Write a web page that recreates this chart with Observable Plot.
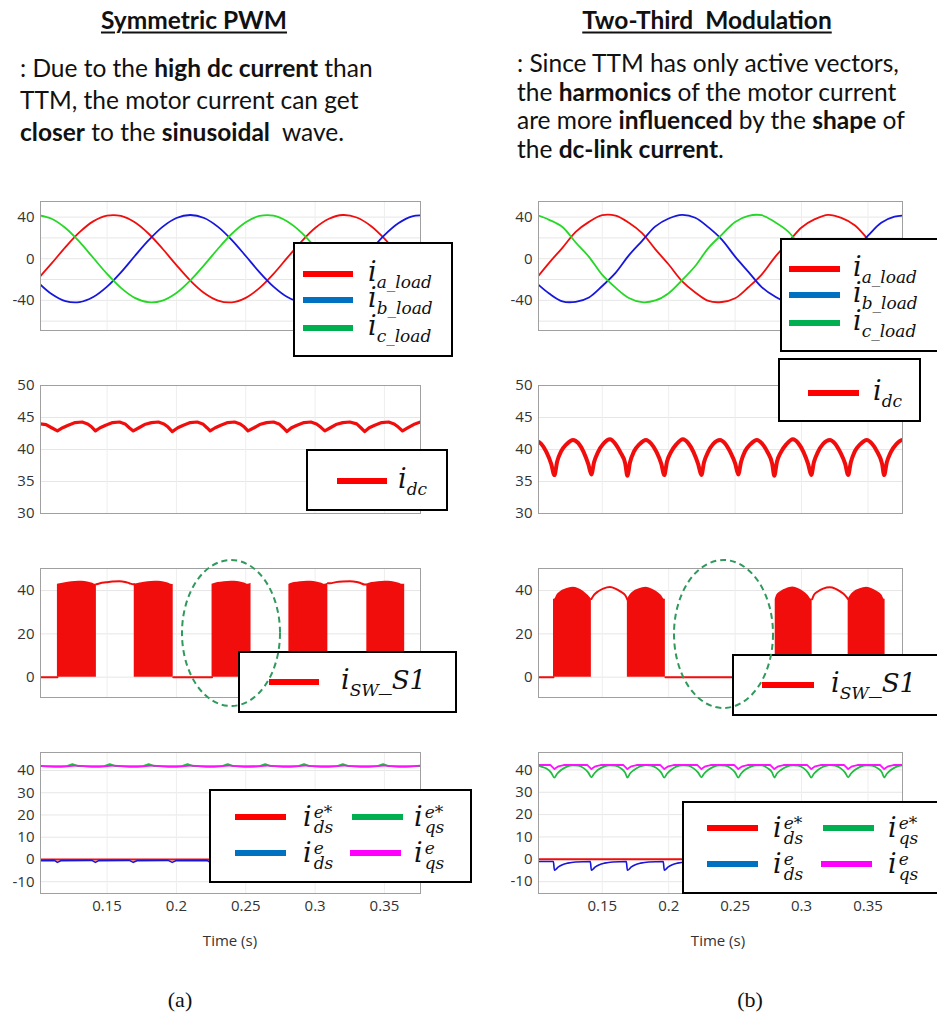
<!DOCTYPE html>
<html><head><meta charset="utf-8">
<script src="https://cdn.jsdelivr.net/npm/d3@7"></script>
<script src="https://cdn.jsdelivr.net/npm/@observablehq/plot@0.6"></script>
<style>
body{margin:0;background:#fff;}
#root{position:relative;width:937px;height:1017px;overflow:hidden;background:#fff;font-family:Lato,"Open Sans",sans-serif;}
.abs{position:absolute;}
.title{position:absolute;font-weight:700;font-size:24.5px;text-decoration:underline;text-decoration-thickness:1.5px;text-underline-offset:3px;transform:translate(-50%,-50%);white-space:nowrap;color:#111;}
.body{position:absolute;font-size:24.5px;color:#111;white-space:nowrap;}
.legend{position:absolute;border:2.5px solid #000;background:#fff;box-sizing:border-box;}
.sw{position:absolute;height:6px;transform:translateY(-50%);}
.lab{position:absolute;font-family:"DejaVu Serif",serif;font-style:italic;transform:translateY(-50%);white-space:nowrap;color:#111;line-height:1;}
.mi{font-size:27px;}
.sb{font-size:17px;vertical-align:-7px;}
.up{font-size:26px;}
.ss{display:inline-block;font-size:17px;line-height:15px;vertical-align:-7px;margin-left:2px;}
.ss span{display:block;}
.tl{position:absolute;font-family:"Open Sans",sans-serif;font-size:15px;color:#333;transform:translate(-50%,-50%);}
.cap{position:absolute;font-family:"Liberation Serif",serif;font-size:22px;color:#111;transform:translate(-50%,-50%);}
</style></head>
<body><div id="root"></div>
<script>
// ---------------- data ----------------
const timeDomain = [0.102, 0.376];
const timeTicks = [0.15, 0.2, 0.25, 0.3, 0.35];
const ticksLoad = [-40, 0, 40];
const gridLoad = [-60, -40, -20, 0, 20, 40];
const ticksDc = [30, 35, 40, 45, 50];
const ticksSw = [0, 20, 40];
const gridSw = [0, 20, 40];
const ticksDq = [-10, 0, 10, 20, 30, 40];

const loadNames = ["a_load", "b_load", "c_load"];
const loadTime = [0.10,0.11,0.12,0.13,0.14,0.15,0.16,0.17,0.18,0.19,0.20,0.21,0.22,0.23,0.24,0.25,0.26,0.27,0.28,0.29,0.30,0.31,0.32,0.33,0.34,0.35,0.36,0.37,0.38];
// Symmetric PWM phase currents (A)
const spwmIa = [-19.6,-4.5,11.2,25.3,35.9,41.4,41.1,35.0,24.0,9.6,-6.1,-21.0,-32.9,-40.2,-41.9,-37.6,-28.0,-14.6,1.0,16.3,29.5,38.4,42.0,39.6,31.7,19.3,4.0,-11.7,-25.9];
const spwmIb = [-22.4,-33.9,-40.7,-41.7,-36.8,-26.8,-13.1,2.6,17.8,30.6,39.1,42.0,39.1,30.6,17.9,2.6,-13.1,-26.8,-36.8,-41.7,-40.7,-33.9,-22.4,-7.7,8.0,22.7,34.1,40.7,41.6];
const spwmIc = [42.0,38.4,29.5,16.4,0.9,-14.6,-28.0,-37.6,-41.8,-40.2,-33.0,-21.0,-6.2,9.6,24.0,35.0,41.1,41.4,35.8,25.4,11.2,-4.5,-19.6,-31.9,-39.7,-42.0,-38.1,-29.0,-15.7];
// Two-third modulation phase currents (A)
const ttmIa = [-19.6,-4.0,10.5,25.8,35.4,41.8,41.4,34.6,24.6,9.0,-5.6,-21.5,-32.4,-40.6,-41.6,-38.0,-27.4,-15.2,1.6,15.8,30.0,38.0,42.2,39.2,32.2,18.8,4.6,-12.2,-25.4];
const ttmIb = [-22.8,-33.4,-41.0,-41.4,-37.2,-26.2,-13.6,3.2,17.2,31.1,38.7,42.2,39.4,30.1,18.4,2.0,-12.6,-27.3,-36.4,-41.9,-40.4,-34.3,-21.9,-8.2,8.5,22.1,34.6,40.4,41.8];
const ttmIc = [42.4,37.4,30.5,15.6,1.8,-15.6,-27.8,-37.8,-41.8,-40.1,-33.1,-20.7,-7.0,10.5,23.2,35.4,41.2,41.8,35.2,26.1,10.4,-3.7,-20.3,-31.0,-40.7,-40.9,-39.2,-28.2,-16.4];

// Symmetric PWM dc-link current [t, A]
const spwmIdc = [[0.102,44.0],[0.106,43.9],[0.110,43.4],[0.1142,42.9],[0.118,43.4],[0.122,43.8],[0.127,44.2],[0.132,44.3],[0.136,44.0],[0.139,43.5],
[0.1416,42.9],[0.145,43.4],[0.149,43.8],[0.154,44.2],[0.159,44.3],[0.163,44.0],[0.166,43.4],[0.1689,42.9],[0.173,43.4],[0.177,43.9],
[0.182,44.2],[0.187,44.3],[0.191,44.0],[0.194,43.5],[0.197,42.8],[0.201,43.4],[0.205,43.8],[0.210,44.2],[0.215,44.3],[0.219,44.0],
[0.222,43.4],[0.2243,42.9],[0.228,43.4],[0.232,43.8],[0.237,44.2],[0.242,44.3],[0.246,44.0],[0.249,43.5],[0.2516,42.9],[0.256,43.4],
[0.260,43.9],[0.265,44.2],[0.270,44.3],[0.274,44.0],[0.277,43.4],[0.2797,42.8],[0.283,43.4],[0.287,43.8],[0.292,44.2],[0.297,44.3],
[0.301,44.0],[0.304,43.5],[0.307,42.9],[0.311,43.4],[0.315,43.9],[0.320,44.2],[0.325,44.3],[0.330,44.0],[0.333,43.4],[0.3358,42.8],
[0.339,43.4],[0.343,43.8],[0.348,44.2],[0.353,44.3],[0.357,44.0],[0.360,43.5],[0.3631,42.9],[0.367,43.4],[0.371,43.9],[0.376,44.3]];

// Two-third modulation: common time base for dc-link current and q-axis reference
const ttmTime = [0.100,0.104,0.108,0.1115,
0.1140,0.1160,0.1190,0.1230,0.1280,0.1320,0.1360,0.1395,
0.1418,0.1438,0.1468,0.1508,0.1558,0.1598,0.1638,0.1673,
0.1689,0.1709,0.1739,0.1779,0.1829,0.1869,0.1909,0.1944,
0.1967,0.1987,0.2017,0.2057,0.2107,0.2147,0.2187,0.2222,
0.2246,0.2266,0.2296,0.2336,0.2386,0.2426,0.2466,0.2501,
0.2524,0.2544,0.2574,0.2614,0.2664,0.2704,0.2744,0.2779,
0.2795,0.2815,0.2845,0.2885,0.2935,0.2975,0.3015,0.3050,
0.3073,0.3093,0.3123,0.3163,0.3213,0.3253,0.3293,0.3328,
0.3351,0.3371,0.3401,0.3441,0.3491,0.3531,0.3571,0.3606,
0.3622,0.3642,0.3672,0.3712,0.3762,0.3800];
const ttmIdc = [41.4,40.9,39.6,37.8,
36.0,38.1,39.7,40.8,41.5,41.0,39.6,37.7,
36.1,38.0,39.6,40.9,41.6,40.9,39.5,37.8,
35.9,38.0,39.7,40.8,41.5,40.9,39.6,37.8,
36.0,38.1,39.6,40.8,41.6,41.0,39.6,37.7,
36.0,38.0,39.6,40.9,41.5,40.9,39.5,37.8,
36.1,38.0,39.7,40.8,41.5,40.9,39.6,37.8,
35.9,38.1,39.6,40.8,41.6,41.0,39.6,37.7,
36.0,38.0,39.6,40.9,41.5,40.9,39.5,37.8,
36.0,38.0,39.7,40.8,41.5,40.9,39.6,37.8,
36.0,38.0,39.6,40.8,41.5,41.2];
const ttmQsRef = [42.0,41.5,40.6,38.8,
36.6,38.3,40.0,41.4,42.1,41.9,40.8,38.8,
36.7,38.3,40.1,41.4,42.1,41.9,40.8,38.7,
36.6,38.4,40.0,41.4,42.2,41.9,40.8,38.8,
36.6,38.3,40.0,41.5,42.1,41.9,40.7,38.8,
36.7,38.3,40.0,41.4,42.1,41.9,40.8,38.8,
36.6,38.3,40.1,41.4,42.1,42.0,40.8,38.8,
36.6,38.4,40.0,41.4,42.1,41.9,40.8,38.7,
36.6,38.3,40.0,41.4,42.2,41.9,40.8,38.8,
36.7,38.3,40.0,41.4,42.1,41.9,40.8,38.8,
36.6,38.3,40.0,41.4,42.1,42.0];

// switch S1 current: PWM-switching intervals and continuously-on intervals [s]
const spwmPwmStart = [0.1142, 0.1696, 0.2257, 0.2811, 0.3373];
const spwmPwmEnd   = [0.1423, 0.1977, 0.2538, 0.3092, 0.3646];
const spwmOnStart  = [0.1423, 0.3092];
const spwmOnEnd    = [0.1696, 0.3373];
const ttmPwmStart  = [0.1133, 0.1689, 0.2802, 0.3351];
const ttmPwmEnd    = [0.1418, 0.1975, 0.3080, 0.3629];
const ttmOnStart   = [0.1418, 0.3080];
const ttmOnEnd     = [0.1689, 0.3351];

// d-q currents [t, A]
const spwmDsRef = [[0.100,0.0],[0.380,0.0]];
const spwmDs = [[0.102,-0.5],[0.112,-0.4],[0.1142,-1.3],[0.117,-0.5],[0.139,-0.4],[0.1416,-1.3],[0.144,-0.5],[0.166,-0.4],[0.1689,-1.3],[0.172,-0.5],
[0.194,-0.4],[0.1970,-1.3],[0.200,-0.5],[0.222,-0.4],[0.2243,-1.3],[0.227,-0.5],[0.249,-0.4],[0.2516,-1.3],[0.254,-0.5],[0.277,-0.4],
[0.2797,-1.3],[0.282,-0.5],[0.305,-0.4],[0.3070,-1.3],[0.310,-0.5],[0.333,-0.4],[0.3358,-1.3],[0.338,-0.5],[0.361,-0.4],[0.3631,-1.3],[0.366,-0.5],[0.376,-0.4]];
const spwmQsRef = [[0.102,42.0],[0.121,42.0],[0.125,42.9],[0.129,42.0],[0.148,42.0],[0.152,42.9],[0.156,42.0],[0.176,42.0],[0.180,42.9],[0.184,42.0],
[0.204,42.0],[0.208,42.9],[0.212,42.0],[0.233,42.0],[0.237,42.9],[0.241,42.0],[0.260,42.0],[0.264,42.9],[0.268,42.0],[0.288,42.0],
[0.292,42.9],[0.296,42.0],[0.316,42.0],[0.320,42.9],[0.324,42.0],[0.345,42.0],[0.349,42.9],[0.353,42.0],[0.376,42.0]];
const spwmQs = [[0.102,42.1],[0.1142,41.6],[0.128,42.2],[0.1416,41.6],[0.155,42.2],[0.1689,41.6],[0.183,42.2],[0.1970,41.6],[0.211,42.2],[0.2243,41.6],
[0.238,42.2],[0.2516,41.6],[0.266,42.2],[0.2797,41.6],[0.293,42.2],[0.3070,41.6],[0.321,42.2],[0.3358,41.6],[0.350,42.2],[0.3631,41.6],[0.376,42.2]];
const ttmDsRef = [[0.100,0.0],[0.380,0.0]];
const ttmDs = [[0.100,-1.0],
[0.1132,-1.0],[0.1140,-4.9],[0.1170,-3.4],[0.1200,-2.4],[0.1240,-1.7],[0.1300,-1.2],
[0.1410,-1.0],[0.1418,-4.9],[0.1448,-3.4],[0.1478,-2.4],[0.1518,-1.7],[0.1578,-1.2],
[0.1681,-1.0],[0.1689,-4.9],[0.1719,-3.4],[0.1749,-2.4],[0.1789,-1.7],[0.1849,-1.2],
[0.1959,-1.0],[0.1967,-4.9],[0.1997,-3.4],[0.2027,-2.4],[0.2067,-1.7],[0.2127,-1.2],
[0.2238,-1.0],[0.2246,-4.9],[0.2276,-3.4],[0.2306,-2.4],[0.2346,-1.7],[0.2406,-1.2],
[0.2516,-1.0],[0.2524,-4.9],[0.2554,-3.4],[0.2584,-2.4],[0.2624,-1.7],[0.2684,-1.2],
[0.2787,-1.0],[0.2795,-4.9],[0.2825,-3.4],[0.2855,-2.4],[0.2895,-1.7],[0.2955,-1.2],
[0.3065,-1.0],[0.3073,-4.9],[0.3103,-3.4],[0.3133,-2.4],[0.3173,-1.7],[0.3233,-1.2],
[0.3343,-1.0],[0.3351,-4.9],[0.3381,-3.4],[0.3411,-2.4],[0.3451,-1.7],[0.3511,-1.2],
[0.3614,-1.0],[0.3622,-4.9],[0.3652,-3.4],[0.3682,-2.4],[0.3722,-1.7],[0.3782,-1.2]];
const ttmQs = [[0.100,42.2],
[0.1110,42.2],[0.1140,40.4],[0.1170,41.6],[0.1210,42.2],
[0.1388,42.2],[0.1418,40.4],[0.1448,41.6],[0.1488,42.2],
[0.1659,42.2],[0.1689,40.4],[0.1719,41.6],[0.1759,42.2],
[0.1937,42.2],[0.1967,40.4],[0.1997,41.6],[0.2037,42.2],
[0.2216,42.2],[0.2246,40.4],[0.2276,41.6],[0.2316,42.2],
[0.2494,42.2],[0.2524,40.4],[0.2554,41.6],[0.2594,42.2],
[0.2765,42.2],[0.2795,40.4],[0.2825,41.6],[0.2865,42.2],
[0.3043,42.2],[0.3073,40.4],[0.3103,41.6],[0.3143,42.2],
[0.3321,42.2],[0.3351,40.4],[0.3381,41.6],[0.3421,42.2],
[0.3592,42.2],[0.3622,40.4],[0.3652,41.6],[0.3692,42.2],[0.380,42.2]];

// ---------------- colours ----------------
const C = {red:"#f20d0d", blue:"#1616dc", green:"#26d826", green2:"#22bb44", magenta:"#ff10ff"};
const L = {red:"#ff0000", blue:"#0070c0", green:"#00b050", magenta:"#ff00ff"};

// ---------------- helpers ----------------
const root = document.getElementById("root");
function put(html){ root.insertAdjacentHTML("beforeend", html); }

function panel({left, top, frameW, frameH, yDomain, yTicks, yGrid, marks, xAxis}){
  const mt = 5, mb = xAxis ? 30 : 5, ml = 40, mr = 2;
  const svg = Plot.plot({
    width: ml + frameW + mr, height: mt + frameH + mb,
    marginLeft: ml, marginRight: mr, marginTop: mt, marginBottom: mb,
    style: {fontFamily: "'Open Sans', sans-serif", fontSize: "15px", color: "#333", background: "transparent", overflow: "visible"},
    x: {domain: timeDomain, ticks: timeTicks, tickSize: 0, tickPadding: 7, label: null, tickFormat: d => String(d), axis: xAxis ? "bottom" : null},
    y: {domain: yDomain, ticks: yTicks, tickSize: 0, tickPadding: 6, label: null, tickFormat: d => String(d)},
    marks: [
      Plot.ruleY(yGrid || yTicks, {stroke: "#e6e6e6"}),
      Plot.ruleX(timeTicks, {stroke: "#eeeeee"}),
      ...marks,
      Plot.frame({stroke: "#a0a0a0"})
    ]
  });
  svg.style.position = "absolute";
  svg.style.left = (left - ml) + "px";
  svg.style.top = (top - mt) + "px";
  root.appendChild(svg);
}

const rows = (time, vals) => time.map((t, i) => ({t, v: vals[i]}));
const pairs = arr => arr.map(([t, v]) => ({t, v}));

function loadMarks(a, b, c){
  return [[a, C.red], [b, C.blue], [c, C.green]].map(([s, col]) =>
    Plot.line(rows(loadTime, s), {x: "t", y: "v", stroke: col, strokeWidth: 1.8, curve: "catmull-rom", clip: true}));
}

function swMarks(idc, pwmS, pwmE, onS, onE, col){
  const near = t => idc.reduce((a, b) => Math.abs(b[0] - t) < Math.abs(a[0] - t) ? b : a)[1];
  const seg = (s, e) => [[s, near(s)], ...idc.filter(d => d[0] > s && d[0] < e), [e, near(e)]];
  const blocks = pwmS.flatMap((s, k) => seg(s, pwmE[k]).map(([t, v]) => ({t, v, k})));
  const on = onS.flatMap((s, k) => seg(s, onE[k]).map(([t, v]) => ({t, v, k})));
  const iv = [...pwmS.map((s, i) => [s, pwmE[i]]), ...onS.map((s, i) => [s, onE[i]])].sort((a, b) => a[0] - b[0]);
  const off = []; let cur = timeDomain[0];
  for (const [s, e] of iv){ if (s > cur + 1e-6) off.push([cur, s]); cur = Math.max(cur, e); }
  if (cur < timeDomain[1]) off.push([cur, timeDomain[1]]);
  const offData = off.flatMap(([s, e], k) => [{t: s, v: 0, k}, {t: e, v: 0, k}]);
  return [
    Plot.areaY(blocks, {x: "t", y1: 0, y2: "v", z: "k", fill: col, curve: "monotone-x", clip: true}),
    Plot.line(on, {x: "t", y: "v", z: "k", stroke: col, strokeWidth: 2, curve: "monotone-x", clip: true}),
    Plot.line(offData, {x: "t", y: "v", z: "k", stroke: col, strokeWidth: 2, clip: true})
  ];
}

// ---------------- text ----------------
put(`<div class="title" style="left:194px;top:19px">Symmetric PWM</div>`);
put(`<div class="title" style="left:707px;top:19px">Two-Third&nbsp; Modulation</div>`);
put(`<div class="body" style="left:20px;top:52px;line-height:32px">: Due to the <b>high dc current</b> than<br>TTM, the motor current can get<br><b>closer</b> to the <b>sinusoidal</b>&nbsp; wave.</div>`);
put(`<div class="body" style="left:517px;top:49px;line-height:28.5px">: Since TTM has only active vectors,<br>the <b>harmonics</b> of the motor current<br>are more <b>influenced</b> by the <b>shape</b> of<br>the <b>dc-link current</b>.</div>`);

// ---------------- panels ----------------
const colL = {left: 40, frameW: 380}, colR = {left: 538, frameW: 364};
const rowY = [{top: 201, h: 129}, {top: 385, h: 128}, {top: 568, h: 129}, {top: 752, h: 141}];

panel({...colL, top: rowY[0].top, frameH: rowY[0].h, yDomain: [-69, 55], yTicks: ticksLoad, yGrid: gridLoad, marks: loadMarks(spwmIa, spwmIb, spwmIc)});
panel({...colR, top: rowY[0].top, frameH: rowY[0].h, yDomain: [-69, 55], yTicks: ticksLoad, yGrid: gridLoad, marks: loadMarks(ttmIa, ttmIb, ttmIc)});

panel({...colL, top: rowY[1].top, frameH: rowY[1].h, yDomain: [30, 50], yTicks: ticksDc, marks: [
  Plot.line(pairs(spwmIdc), {x: "t", y: "v", stroke: C.red, strokeWidth: 3.2, clip: true})]});
panel({...colR, top: rowY[1].top, frameH: rowY[1].h, yDomain: [30, 50], yTicks: ticksDc, marks: [
  Plot.line(rows(ttmTime, ttmIdc), {x: "t", y: "v", stroke: C.red, strokeWidth: 4, curve: "monotone-x", clip: true})]});

const ttmIdcPairs = ttmTime.map((t, i) => [t, ttmIdc[i]]);
panel({...colL, top: rowY[2].top, frameH: rowY[2].h, yDomain: [-9.4, 50.2], yTicks: ticksSw, yGrid: gridSw,
  marks: swMarks(spwmIdc, spwmPwmStart, spwmPwmEnd, spwmOnStart, spwmOnEnd, C.red)});
panel({...colR, top: rowY[2].top, frameH: rowY[2].h, yDomain: [-9.4, 50.2], yTicks: ticksSw, yGrid: gridSw,
  marks: swMarks(ttmIdcPairs, ttmPwmStart, ttmPwmEnd, ttmOnStart, ttmOnEnd, C.red)});

panel({...colL, top: rowY[3].top, frameH: rowY[3].h, yDomain: [-15.3, 48.1], yTicks: ticksDq, xAxis: true, marks: [
  Plot.line(pairs(spwmDsRef), {x: "t", y: "v", stroke: C.red, strokeWidth: 2, clip: true}),
  Plot.line(pairs(spwmDs), {x: "t", y: "v", stroke: C.blue, strokeWidth: 1.6, clip: true}),
  Plot.line(pairs(spwmQsRef), {x: "t", y: "v", stroke: C.green2, strokeWidth: 1.8, clip: true}),
  Plot.line(pairs(spwmQs), {x: "t", y: "v", stroke: C.magenta, strokeWidth: 1.8, curve: "monotone-x", clip: true})]});
panel({...colR, top: rowY[3].top, frameH: rowY[3].h, yDomain: [-15.3, 47.8], yTicks: ticksDq, xAxis: true, marks: [
  Plot.line(pairs(ttmDsRef), {x: "t", y: "v", stroke: C.red, strokeWidth: 2, clip: true}),
  Plot.line(pairs(ttmDs), {x: "t", y: "v", stroke: C.blue, strokeWidth: 1.6, curve: "monotone-x", clip: true}),
  Plot.line(rows(ttmTime, ttmQsRef), {x: "t", y: "v", stroke: C.green2, strokeWidth: 1.8, curve: "monotone-x", clip: true}),
  Plot.line(pairs(ttmQs), {x: "t", y: "v", stroke: C.magenta, strokeWidth: 1.8, clip: true})]});

put(`<div class="tl" style="left:230px;top:940px">Time (s)</div>`);
put(`<div class="tl" style="left:718px;top:940px">Time (s)</div>`);

// ---------------- legends ----------------
const subLab = s => `<span class="mi">i</span><span class="sb">${s}</span>`;
const swLab = `<span class="mi">i</span><span class="sb">SW</span><span class="up">_S1</span>`;
const dqLab = (sup, sub) => `<span class="mi">i</span><span class="ss"><span>${sup}</span><span>${sub}</span></span>`;

function legend(box, entries){
  put(`<div class="legend" style="left:${box[0]}px;top:${box[1]}px;width:${box[2]}px;height:${box[3]}px"></div>`);
  for (const e of entries){
    put(`<div class="sw" style="left:${e.sx}px;top:${e.y}px;width:${e.sw}px;background:${e.col}"></div>`);
    put(`<div class="lab" style="left:${e.tx}px;top:${e.y + (e.dy || 0)}px">${e.html}</div>`);
  }
}
const loadCols = [L.red, L.blue, L.green];
legend([293, 242, 160, 115], loadNames.map((n, i) => ({sx: 303, sw: 50, tx: 368, y: [274, 300, 328][i], col: loadCols[i], html: subLab(n)})));
legend([780, 238, 175, 114], loadNames.map((n, i) => ({sx: 789, sw: 51, tx: 853, y: [269, 295, 323][i], col: loadCols[i], html: subLab(n)})));
legend([306, 449, 142, 62], [{sx: 337, sw: 50, tx: 398, y: 481, col: L.red, html: subLab("dc")}]);
legend([778, 358, 143, 64], [{sx: 808, sw: 51, tx: 873, y: 393, col: L.red, html: subLab("dc")}]);
legend([238, 651, 219, 62], [{sx: 269, sw: 50, tx: 341, y: 682, col: L.red, html: swLab}]);
legend([732, 654, 215, 62], [{sx: 762, sw: 52, tx: 831, y: 685, col: L.red, html: swLab}]);
legend([209, 789, 263, 94], [
  {sx: 235, sw: 51, tx: 303, y: 817, dy: 2, col: L.red, html: dqLab("e*", "ds")},
  {sx: 352, sw: 51, tx: 414, y: 817, dy: 2, col: L.green, html: dqLab("e*", "qs")},
  {sx: 235, sw: 51, tx: 303, y: 853, dy: 2, col: L.blue, html: dqLab("e", "ds")},
  {sx: 350, sw: 51, tx: 414, y: 853, dy: 2, col: L.magenta, html: dqLab("e", "qs")}]);
legend([682, 801, 265, 93], [
  {sx: 707, sw: 51, tx: 773, y: 828, dy: 2, col: L.red, html: dqLab("e*", "ds")},
  {sx: 823, sw: 51, tx: 888, y: 828, dy: 2, col: L.green, html: dqLab("e*", "qs")},
  {sx: 707, sw: 51, tx: 773, y: 864, dy: 2, col: L.blue, html: dqLab("e", "ds")},
  {sx: 821, sw: 51, tx: 888, y: 864, dy: 2, col: L.magenta, html: dqLab("e", "qs")}]);

// ---------------- highlight ellipses ----------------
put(`<svg class="abs" style="left:0;top:0" width="937" height="1017" viewBox="0 0 937 1017">
<ellipse cx="231" cy="633" rx="49" ry="73" fill="none" stroke="#2f9a5c" stroke-width="2" stroke-dasharray="6 4"/>
<ellipse cx="723.5" cy="634" rx="49.5" ry="74" fill="none" stroke="#2f9a5c" stroke-width="2" stroke-dasharray="6 4"/>
</svg>`);

put(`<div class="cap" style="left:180px;top:1000px">(a)</div>`);
put(`<div class="cap" style="left:750px;top:1000px">(b)</div>`);
</script></body></html>
